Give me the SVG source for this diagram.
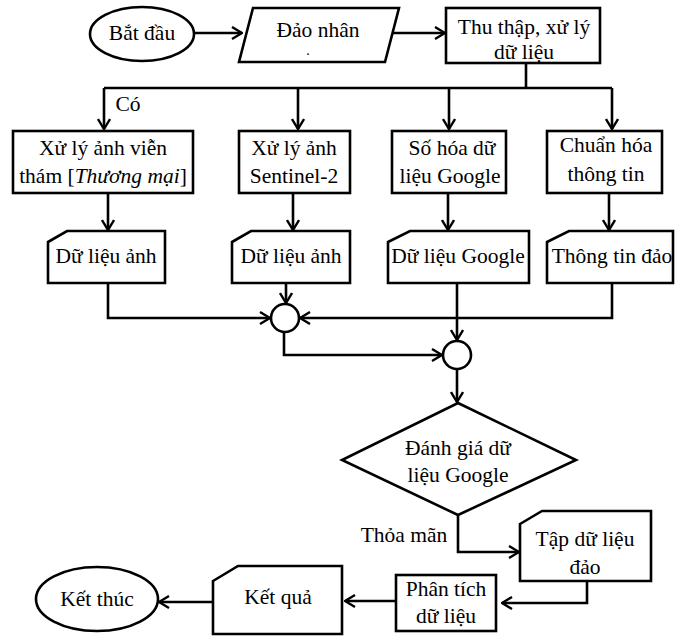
<svg xmlns="http://www.w3.org/2000/svg" width="679" height="636" viewBox="0 0 679 636">
<defs>
<marker id="arr" viewBox="0 0 12 14" refX="11" refY="7" markerWidth="12" markerHeight="14" markerUnits="userSpaceOnUse" orient="auto">
<path d="M1,1 L11,7 L1,13" fill="none" stroke="#000" stroke-width="2.4"/>
</marker>
<style>
.s{fill:#fff;stroke:#000;stroke-width:2.6}
.c{fill:none;stroke:#000;stroke-width:2.6;marker-end:url(#arr)}
.l{fill:none;stroke:#000;stroke-width:2.6}
text{font-family:"Liberation Serif","Times New Roman",serif;font-size:21.5px;fill:#000;text-anchor:middle}
</style>
</defs>
<rect width="679" height="636" fill="#fff"/>
<g id="connectors">
<path class="c" d="M194,33 H242"/>
<path class="c" d="M392,33 H445"/>
<path class="l" d="M526,63 V88"/>
<path class="l" d="M104,88 H612"/>
<path class="c" d="M104,88 V129"/>
<path class="c" d="M298,88 V129"/>
<path class="c" d="M449,88 V129"/>
<path class="c" d="M612,88 V129"/>
<path class="c" d="M108,192 V230"/>
<path class="c" d="M293,192 V230"/>
<path class="c" d="M448,192 V230"/>
<path class="c" d="M609,192 V230"/>
<path class="c" d="M108,283 V318 H270"/>
<path class="c" d="M286,283 V303"/>
<path class="c" d="M612,283 V318 H300"/>
<path class="c" d="M457,283 V340"/>
<path class="c" d="M284,332 V355 H442"/>
<path class="c" d="M457,369 V402"/>
<path class="c" d="M458,515 V552 H519"/>
<path class="c" d="M587,581 V603 H502"/>
<path class="c" d="M396,601 H345"/>
<path class="c" d="M213,602 H159"/>
<text x="128" y="111">Có</text>
<text x="404" y="542">Thỏa mãn</text>
</g>
<g id="start">
<ellipse class="s" cx="142" cy="34" rx="52" ry="27"/>
<text x="142" y="40">Bắt đầu</text>
</g>
<g id="island">
<polygon class="s" points="253,8 399,8 385,62 239,62"/>
<text x="318" y="37">Đảo nhân</text>
<text x="308" y="55" style="font-size:14px">.</text>
</g>
<g id="collect">
<rect class="s" x="446" y="8" width="154" height="55"/>
<text x="524" y="34">Thu thập, xử lý</text>
<text x="524" y="59">dữ liệu</text>
</g>
<g id="b1">
<rect class="s" x="13" y="131" width="180" height="62"/>
<text x="103" y="155">Xử lý ảnh viễn</text>
<text x="103" y="183">thám [<tspan font-style="italic">Thương mại</tspan>]</text>
</g>
<g id="b2">
<rect class="s" x="239" y="131" width="111" height="62"/>
<text x="294" y="155">Xử lý ảnh</text>
<text x="294" y="183">Sentinel-2</text>
</g>
<g id="b3">
<rect class="s" x="392" y="131" width="114" height="62"/>
<text x="452" y="155">Số hóa dữ</text>
<text x="450" y="183">liệu Google</text>
</g>
<g id="b4">
<rect class="s" x="547" y="131" width="115" height="62"/>
<text x="606" y="152">Chuẩn hóa</text>
<text x="606" y="181">thông tin</text>
</g>
<g id="d1">
<path class="s" d="M48,242 L67,231 H165 V283 H48 Z"/>
<text x="106" y="263">Dữ liệu ảnh</text>
</g>
<g id="d2">
<path class="s" d="M232,242 L251,231 H350 V283 H232 Z"/>
<text x="291" y="263">Dữ liệu ảnh</text>
</g>
<g id="d3">
<path class="s" d="M388,242 L410,231 H529 V283 H388 Z"/>
<text x="458" y="263">Dữ liệu Google</text>
</g>
<g id="d4">
<path class="s" d="M547,242 L569,231 H673 V283 H547 Z"/>
<text x="612" y="263">Thông tin đảo</text>
</g>
<g id="merge1">
<circle class="s" cx="285" cy="318" r="14"/>
</g>
<g id="merge2">
<circle class="s" cx="457" cy="355" r="14"/>
</g>
<g id="evaluate">
<polygon class="s" points="458,403 576,460 458,515 342,460"/>
<text x="458" y="455">Đánh giá dữ</text>
<text x="458" y="482">liệu Google</text>
</g>
<g id="dataset">
<path class="s" d="M520,524 L542,511 H651 V581 H520 Z"/>
<text x="585" y="546">Tập dữ liệu</text>
<text x="585" y="574">đảo</text>
</g>
<g id="analyse">
<rect class="s" x="396" y="575" width="100" height="56"/>
<text x="446" y="596">Phân tích</text>
<text x="446" y="623">dữ liệu</text>
</g>
<g id="result">
<path class="s" d="M213,581 L238,566 H342 V634 H213 Z"/>
<text x="278" y="604">Kết quả</text>
</g>
<g id="end">
<ellipse class="s" cx="97" cy="599" rx="61" ry="32"/>
<text x="97" y="606">Kết thúc</text>
</g>
</svg>
